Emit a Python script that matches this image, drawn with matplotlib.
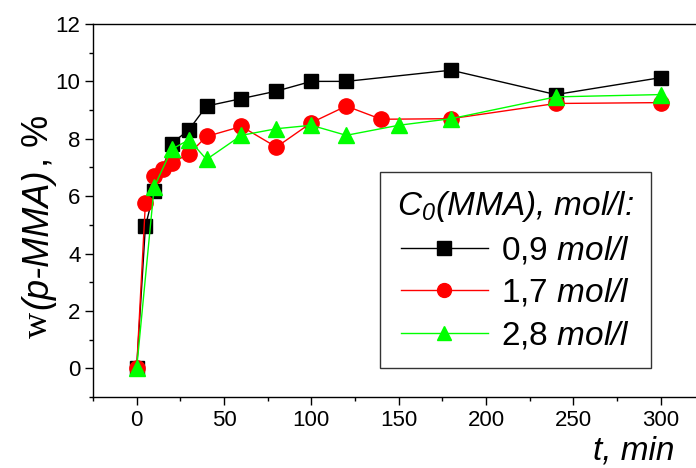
import matplotlib
matplotlib.use("Agg")
import matplotlib.pyplot as plt
from matplotlib.ticker import MultipleLocator

plt.rcParams['font.family'] = ['Liberation Sans', 'DejaVu Sans']
plt.rcParams['mathtext.fontset'] = 'custom'
plt.rcParams['mathtext.rm'] = 'Liberation Sans:italic'
plt.rcParams['mathtext.it'] = 'Liberation Sans:italic'
plt.rcParams['mathtext.sf'] = 'Liberation Sans'
plt.rcParams['mathtext.bf'] = 'Liberation Sans:bold'

t_09 = [0, 5, 10, 20, 30, 40, 60, 80, 100, 120, 180, 240, 300]
w_09 = [0, 4.95, 6.17, 7.83, 8.32, 9.14, 9.40, 9.66, 10.0, 10.0, 10.39, 9.54, 10.13]

t_17 = [0, 5, 10, 15, 20, 30, 40, 60, 80, 100, 120, 140, 180, 240, 300]
w_17 = [0, 5.76, 6.69, 6.93, 7.15, 7.48, 8.08, 8.43, 7.71, 8.56, 9.14, 8.68, 8.70, 9.23, 9.26]

t_28 = [0, 10, 20, 30, 40, 60, 80, 100, 120, 150, 180, 240, 300]
w_28 = [0, 6.31, 7.63, 7.97, 7.28, 8.12, 8.35, 8.47, 8.12, 8.47, 8.70, 9.46, 9.54]

labels = ['0,9 $mol/l$', '1,7 $mol/l$', '2,8 $mol/l$']
legend_title = 'C$_0$(MMA), mol/l:'
xlabel = 't, min'
ylabel_parts = [('w', 'Liberation Serif', 'normal'),
                ('(p-MMA)', 'Liberation Sans', 'italic'),
                (', %', 'Liberation Sans', 'normal')]

fig = plt.figure(figsize=(6.96, 4.68), dpi=100)
ax = fig.add_axes([93/696, 71/468, 620/696, 373/468])

ax.plot(t_09, w_09, color='black', lw=1, marker='s', ms=10, mfc='black', mec='black', label=labels[0], zorder=3)
ax.plot(t_17, w_17, color='red', lw=1, marker='o', ms=11, mfc='red', mec='red', label=labels[1], zorder=4)
ax.plot(t_28, w_28, color='#00ff00', lw=1, marker='^', ms=11, mfc='#00ff00', mec='#00ff00', label=labels[2], zorder=5)

ax.set_xlim(-25, 330)
ax.set_ylim(-1, 12)
ax.xaxis.set_major_locator(MultipleLocator(50))
ax.xaxis.set_minor_locator(MultipleLocator(25))
ax.yaxis.set_major_locator(MultipleLocator(2))
ax.yaxis.set_minor_locator(MultipleLocator(1))
ax.tick_params(which='major', direction='out', length=6, width=1, labelsize=16, pad=3)
ax.tick_params(which='minor', direction='out', length=3, width=1)
for s in ax.spines.values():
    s.set_linewidth(1)

fig.text(593/696, 8/468, xlabel, fontsize=24, style='italic', ha='left', va='baseline')

# y label built from pieces (serif "w", italic sans, upright sans)
renderer = fig.canvas.get_renderer()
ypos = 338
gaps = [3, 1, 0]
for (txt, fam, sty), g in zip(ylabel_parts, gaps):
    tx = fig.text(47/696, (468 - ypos)/468, txt, fontsize=26, family=fam, style=sty,
                  rotation=90, rotation_mode='anchor', ha='left', va='baseline')
    bb = tx.get_window_extent(renderer)
    ypos -= bb.height + g

leg = ax.legend(title=legend_title, loc='upper left', bbox_to_anchor=(380/696, 1 - 172/468),
                bbox_transform=fig.transFigure, fontsize=24, title_fontsize=24,
                frameon=True, fancybox=False, edgecolor='black', handlelength=2.6,
                borderpad=0.5, labelspacing=0.32, handletextpad=0.4, borderaxespad=0)
leg.get_frame().set_linewidth(1)
leg.get_title().set_fontstyle('italic')
for line in leg.get_lines():
    line.set_markersize(10)

fig.savefig('out.png', dpi=100)
